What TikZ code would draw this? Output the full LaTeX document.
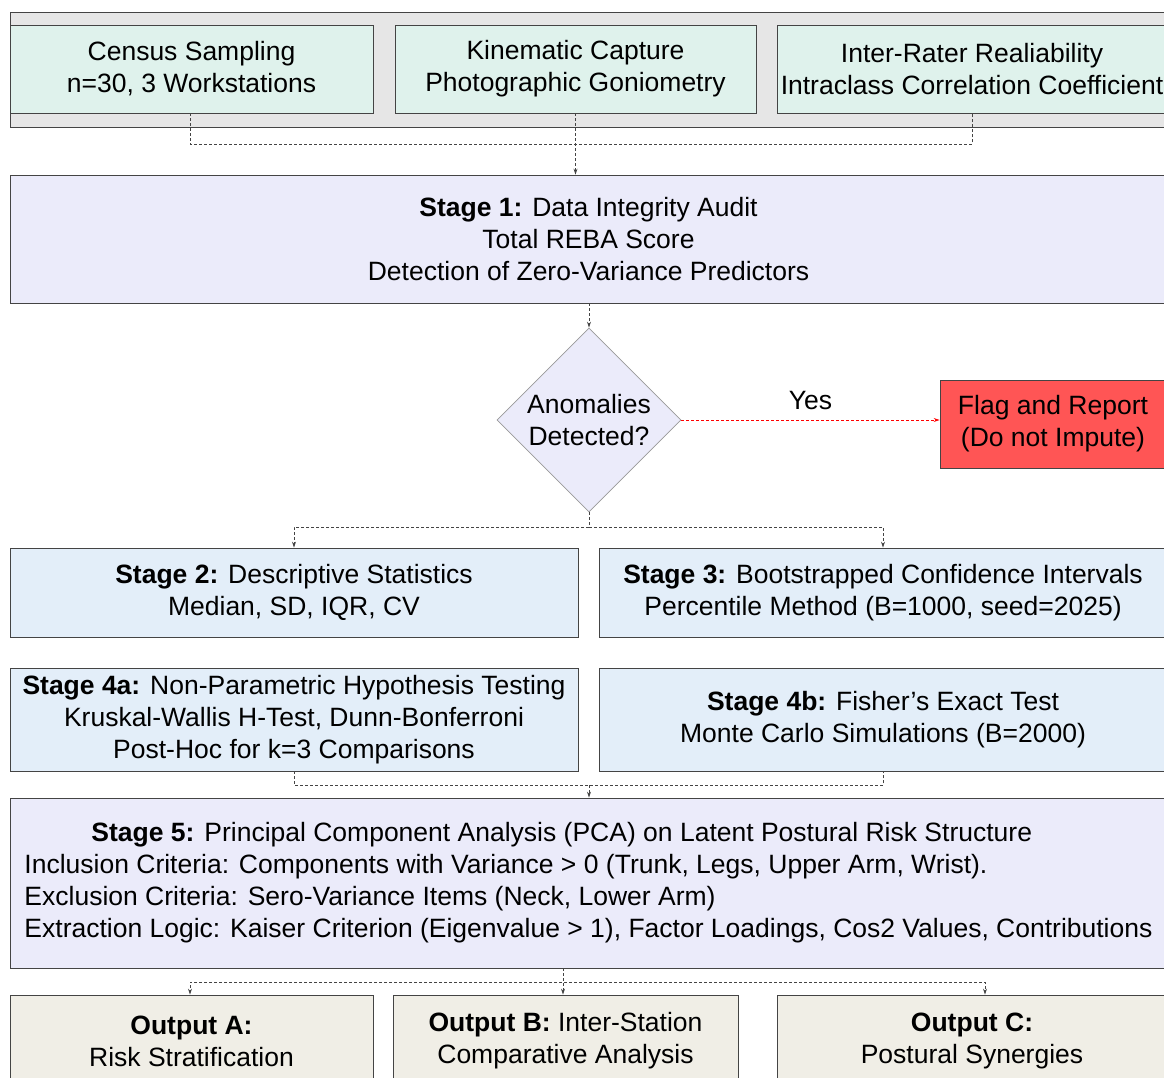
\documentclass[tikz,border=0pt]{standalone}
\usepackage{fontspec}
\setmainfont{Liberation Sans}
\definecolor{panelgrey}{HTML}{E6E6E6}
\definecolor{inputmint}{HTML}{DFF2EC}
\definecolor{auditlav}{HTML}{EBEBFA}
\definecolor{stageblue}{HTML}{E3EEF9}
\definecolor{flagred}{HTML}{FF5555}
\definecolor{outsand}{HTML}{F0EEE6}
\definecolor{edgegrey}{HTML}{444444}
\usetikzlibrary{arrows.meta,positioning,shapes.geometric}

\begin{document}
\begin{tikzpicture}[
  x=1pt, y=-1pt,
  box/.style={rectangle, draw=edgegrey, line width=0.8pt, align=center,
    inner sep=0pt, font=\fontsize{26.5}{32}\selectfont},
  source/.style={box, fill=inputmint, minimum height=88pt},
  audit/.style={box, fill=auditlav},
  stagebox/.style={box, fill=stageblue, minimum width=568pt},
  outbox/.style={box, fill=outsand, minimum height=92pt},
  decision/.style={diamond, draw=gray!80, fill=auditlav, line width=0.8pt,
    minimum width=184pt, minimum height=184pt, inner sep=0pt, align=center,
    font=\fontsize{26.5}{32}\selectfont},
  link/.style={draw=edgegrey, line width=0.9pt, dash pattern=on 3pt off 2pt},
  arr/.style={link, -{Stealth[length=6pt,width=4pt]}},
]
  \useasboundingbox (0,0) rectangle (1164,1077);
  \fill[white] (0,0) rectangle (1164,1077);

  % data sources
  \draw[fill=panelgrey, draw=edgegrey, line width=0.8pt] (10,12) rectangle (1180,127);
  \node[source, minimum width=363pt] (census) at (191.5,69)
    {Census Sampling\\n=30, 3 Workstations};
  \node[source, minimum width=361pt] (kin) at (575.5,69)
    {Kinematic Capture\\Photographic Goniometry};
  \node[source, minimum width=390pt] (irr) at (972,69)
    {Inter-Rater Realiability\\Intraclass Correlation Coefficient};

  \node[audit, minimum width=1157pt, minimum height=128pt] (stage1) at (588.5,239)
    {\textbf{Stage 1:} Data Integrity Audit\\Total REBA Score\\Detection of Zero-Variance Predictors};
  \node[decision] (anom) at (589,420) {Anomalies\\Detected?};
  \node[box, fill=flagred, minimum width=226pt, minimum height=88pt] (flag) at (1053,424)
    {Flag and Report\\(Do not Impute)};

  \node[stagebox, minimum height=89pt] (s2) at (294,592.5)
    {\textbf{Stage 2:} Descriptive Statistics\\Median, SD, IQR, CV};
  \node[stagebox, minimum height=89pt] (s3) at (883,592.5)
    {\textbf{Stage 3:} Bootstrapped Confidence Intervals\\Percentile Method (B=1000, seed=2025)};
  \node[stagebox, minimum height=103pt] (s4a) at (294,719.5)
    {\textbf{Stage 4a:} Non-Parametric Hypothesis Testing\\Kruskal-Wallis H-Test, Dunn-Bonferroni\\Post-Hoc for k=3 Comparisons};
  \node[stagebox, minimum height=103pt] (s4b) at (883,719.5)
    {\textbf{Stage 4b:} Fisher's Exact Test\\Monte Carlo Simulations (B=2000)};

  \node[audit, align=left, minimum width=1157pt, minimum height=170pt] (s5) at (588.5,883)
    {\hspace*{67pt}\textbf{Stage 5:} Principal Component Analysis (PCA) on Latent Postural Risk Structure\\
     Inclusion Criteria: Components with Variance > 0 (Trunk, Legs, Upper Arm, Wrist).\\
     Exclusion Criteria: Sero-Variance Items (Neck, Lower Arm)\\
     Extraction Logic: Kaiser Criterion (Eigenvalue > 1), Factor Loadings, Cos2 Values, Contributions};

  \node[outbox, minimum width=363pt] (outA) at (191.5,1041)
    {\textbf{Output A:}\\Risk Stratification};
  \node[outbox, minimum width=345pt] (outB) at (565.5,1041)
    {\textbf{Output B:} Inter-Station\\Comparative Analysis};
  \node[outbox, minimum width=390pt] (outC) at (972,1041)
    {\textbf{Output C:}\\Postural Synergies};

  % connectors
  \draw[link] ([xshift=-1.5pt]census.south) -- ++(0,31) -| (irr.south);
  \draw[arr] (kin.south) -- (stage1.north -| kin.south);
  \draw[arr] (stage1.south -| anom.north) -- (anom.north);
  \draw[arr, draw=red] (anom.east) -- node[above=6pt, font=\fontsize{26.5}{32}\selectfont]{Yes}
    (anom.east -| flag.west);
  \draw[arr] (anom.south) -- ++(0,15) -| (s2.north);
  \draw[arr] (anom.south) -- ++(0,15) -| (s3.north);
  \draw[link] (s4a.south) -- ++(0,14) -| (s4b.south);
  \coordinate (join45) at (589,785);
  \draw[arr] (join45) -- (s5.north -| join45);
  \coordinate (fork5) at (563,968);
  \draw[arr] (fork5) -- ++(0,14) -| ([xshift=-1.5pt]outA.north);
  \draw[arr] (fork5) -- (outB.north -| fork5);
  \draw[arr] (fork5) -- ++(0,14) -| ([xshift=13pt]outC.north);
\end{tikzpicture}
\end{document}
